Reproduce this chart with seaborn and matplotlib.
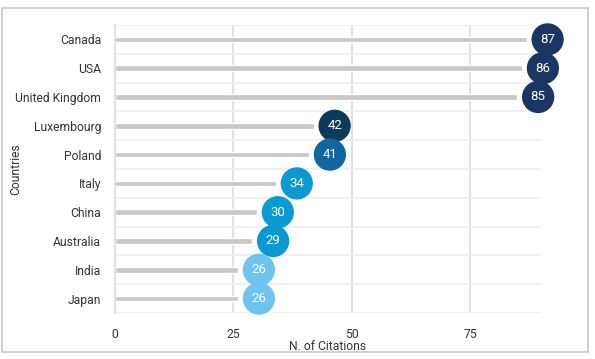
import numpy as np
import pandas as pd
import matplotlib.pyplot as plt
from matplotlib.patches import Rectangle
import seaborn as sns

countries = ["Canada", "USA", "United Kingdom", "Luxembourg", "Poland",
             "Italy", "China", "Australia", "India", "Japan"]
citations = [87, 86, 85, 42, 41, 34, 30, 29, 26, 26]
dot_colors = ["#1c3664", "#1c3664", "#1c3664", "#0b3a5c", "#0f679e",
              "#0a9ad1", "#0a9ad1", "#0a9ad1", "#6ec4ee", "#6ec4ee"]

df = pd.DataFrame({"country": countries, "citations": citations})
df["dot"] = df["citations"] + 4.4  # circle sits just past the bar end

sns.set_theme(style="white")
plt.rcParams["font.family"] = ["Roboto", "DejaVu Sans"]

fig = plt.figure(figsize=(5.95, 3.59), dpi=100)
ax = fig.add_axes([115 / 595, 1 - 313 / 359, (541 - 115) / 595, (313 - 25) / 359])

# light row lines (centres + boundaries)
ax.set_yticks(np.arange(len(countries)))
ax.set_yticks(np.arange(len(countries) + 1) - 0.5, minor=True)
ax.grid(axis="y", which="both", color="#f0f0f0", linewidth=1.3, zorder=0)
ax.set_xticks([0, 25, 50, 75])
ax.grid(axis="x", which="major", color="#e2e2e2", linewidth=1.5, zorder=0)

sns.barplot(data=df, x="citations", y="country", orient="h", color="#c8c8c8",
            width=0.19, saturation=1, ax=ax, zorder=2)

sns.scatterplot(data=df, x="dot", y="country", hue="country",
                palette=dot_colors, s=540, linewidth=0, legend=False,
                ax=ax, zorder=3, clip_on=False)

for c, v, d in zip(countries, citations, df["dot"]):
    ax.text(d, c, str(v), color="white", fontsize=9.5, ha="center",
            va="center", zorder=4)

ax.set_xlim(0, 90)
ax.set_ylim(len(countries) - 0.5, -0.5)

for s in ["top", "right", "bottom"]:
    ax.spines[s].set_visible(False)
ax.spines["left"].set_color("#e2e2e2")
ax.spines["left"].set_linewidth(1.5)

ax.tick_params(axis="both", which="both", length=0, labelsize=8.7,
               colors="#333333")
ax.tick_params(axis="x", pad=11)
ax.tick_params(axis="y", pad=10)

ax.set_xlabel("N. of Citations", fontsize=8.7, color="#333333", labelpad=-1)
ax.set_ylabel("Countries", fontsize=8.7, color="#333333")
ax.yaxis.set_label_coords(-0.218, 0.5)

fig.patches.append(Rectangle((2 / 595, 1 - 352 / 359), 586 / 595, 344 / 359,
                             transform=fig.transFigure, fill=False,
                             edgecolor="#c8c8c8", linewidth=1.2))

fig.savefig("out.png", dpi=100)
